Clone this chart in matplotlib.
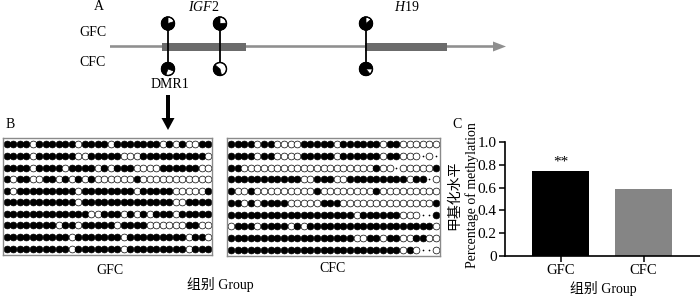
import matplotlib
matplotlib.use('Agg')
import matplotlib.pyplot as plt
from matplotlib.patches import Wedge, Circle, Rectangle, FancyArrow
import numpy as np

plt.rcParams['font.family'] = ['Liberation Serif', 'Noto Sans CJK SC']
plt.rcParams['mathtext.fontset'] = 'custom'
plt.rcParams['mathtext.rm'] = 'Liberation Serif'
plt.rcParams['mathtext.it'] = 'Liberation Serif:italic'

# ---------------- data ----------------
groups = ['GFC', 'CFC']
methylation = [0.75, 0.59]
yticks = [0, 0.2, 0.4, 0.6, 0.8, 1.0]
ytick_labels = ['0', '0.2', '0.4', '0.6', '0.8', '1.0']

site_pos = [168, 220, 366]          # CpG sites along the locus (schematic)
gfc_pie = [0.80, 0.76, 0.86]        # methylated fraction per site, GFC
cfc_pie = [0.75, 0.40, 0.86]        # methylated fraction per site, CFC

gfc_rows = [
    "11110111111011110111111101010011",
    "11110111111001111100011111111110",
    "11110111101111010111000011111100",
    "10110011010101000000100000000000",
    "10111111111011111111011111000001",
    "11111111111011111111111111001111",
    "11111111111110011101010111011111",
    "11111111011011111011110000001100",
    "11111111110111111101111111110110",
    "11111111110111111101111111110111",
]
cfc_rows = [
    "11110110000111110111111011000000",
    "11110110000111110111111011000.0.",
    "1100000000000000000000100.000001",
    "111111111110011100111111111011.0",
    "10010000000001000000001000000000",
    "11010111100000111000000000000001",
    "11111111111111111110111111000..1",
    "01110111101011111111111111111110",
    "11111111111111111110011011001100",
    "11111111111111111111111111010..0",
]

W, H = 700, 296
fig = plt.figure(figsize=(7, 2.96), dpi=100)

# --------------- panel A (pixel-space axes) ---------------
ax = fig.add_axes([0, 0, 1, 1])
ax.set_xlim(0, W)
ax.set_ylim(H, 0)
ax.axis('off')

line_c = '#8f8f8f'
box_c = '#6b6b6b'
ax.add_patch(FancyArrow(110, 46.5, 396, 0, width=2.6, head_width=10,
                        head_length=13, length_includes_head=True,
                        color=line_c, lw=0))
ax.add_patch(Rectangle((162, 42.5), 84, 8, color=box_c, lw=0))
ax.add_patch(Rectangle((365, 42.5), 82, 8, color=box_c, lw=0))

r = 6.5
y_g, y_c = 23.5, 69
def pie(x, y, f, start):
    ax.add_patch(Circle((x, y), r, facecolor='white', edgecolor='black', lw=0.9, zorder=4))
    ax.add_patch(Wedge((x, y), r, start - 360 * f, start, facecolor='black',
                       edgecolor='black', lw=0.5, zorder=5))
    ax.add_patch(Circle((x, y), r, facecolor='none', edgecolor='black', lw=0.9, zorder=6))

g_start = [270, 270, 270]
c_start = [380, 220, 360]
for i, x in enumerate(site_pos):
    ax.plot([x, x], [y_g, y_c], color='black', lw=1.3, zorder=3)
    pie(x, y_g, gfc_pie[i], g_start[i])
    pie(x, y_c, cfc_pie[i], c_start[i])

fs = 10
ax.text(99, 7, 'A', fontsize=fs, ha='center', va='center')
ax.text(204, 7, r'$\mathit{IGF}\mathrm{2}$', fontsize=fs, ha='center', va='center')
ax.text(407, 7, r'$\mathit{H}\mathrm{19}$', fontsize=fs, ha='center', va='center')
ax.text(93, 33, 'GFC', fontsize=fs, ha='center', va='center')
ax.text(93, 62, 'CFC', fontsize=fs, ha='center', va='center')
ax.text(170, 85, 'DMR1', fontsize=fs, ha='center', va='center')
ax.add_patch(FancyArrow(168, 95, 0, 35, width=4, head_width=13, head_length=12,
                        length_includes_head=True, color='black', lw=0))

# --------------- panel B ---------------
ax.text(10, 125, 'B', fontsize=fs, ha='center', va='center')

def grid(rows, box):
    x0, x1, y0, y1 = box
    g = fig.add_axes([x0 / W, 1 - y1 / H, (x1 - x0) / W, (y1 - y0) / H])
    ncol = len(rows[0])
    nrow = len(rows)
    g.set_xlim(-0.6, ncol - 0.4)
    g.set_ylim(nrow - 0.45, -0.55)
    g.set_xticks([]); g.set_yticks([])
    for s in g.spines.values():
        s.set_color('#8a8a8a'); s.set_linewidth(1.0)
    for ri, row in enumerate(rows):
        for ci, ch in enumerate(row):
            if ch == '.':
                g.scatter([ci], [ri], s=1.5, color='black', lw=0)
            else:
                g.scatter([ci], [ri], s=24, facecolor='black' if ch == '1' else 'white',
                          edgecolor='black', lw=0.5)

grid(gfc_rows, (3, 212, 138, 255))
grid(cfc_rows, (227, 440, 138, 256))
ax.text(110, 271, 'GFC', fontsize=fs, ha='center', va='center')
ax.text(333, 269, 'CFC', fontsize=fs, ha='center', va='center')
ax.text(220, 284, '组别 Group', fontsize=fs, ha='center', va='center')

# --------------- panel C ---------------
ax.text(457, 124, 'C', fontsize=fs, ha='center', va='center')
axc = fig.add_axes([505 / W, 1 - 256 / H, 195 / W, 114 / H])
xpos = np.arange(len(groups))
axc.bar(xpos, methylation, width=0.69, color=['black', '#858585'])
axc.set_xlim(-0.669, 1.68)
axc.set_ylim(0, 1.0)
axc.set_yticks(yticks)
axc.set_yticklabels(ytick_labels, fontsize=11)
axc.set_xticks(xpos)
axc.set_xticklabels(groups, fontsize=10.5)
axc.spines['top'].set_visible(False)
axc.spines['right'].set_visible(False)
for s in ('left', 'bottom'):
    axc.spines[s].set_linewidth(1.2)
axc.tick_params(axis='both', length=4, width=1.1, pad=2)
axc.text(0, methylation[0] + 0.015, '**', ha='center', va='bottom', fontsize=11)
ax.text(455, 195, '甲基化水平', fontsize=fs, rotation=90, ha='center', va='center')
ax.text(472, 195, 'Percentage of methylation', fontsize=fs, rotation=90,
        ha='center', va='center')
ax.text(603, 289, '组别 Group', fontsize=fs, ha='center', va='center')

fig.savefig('out.png', dpi=100)
